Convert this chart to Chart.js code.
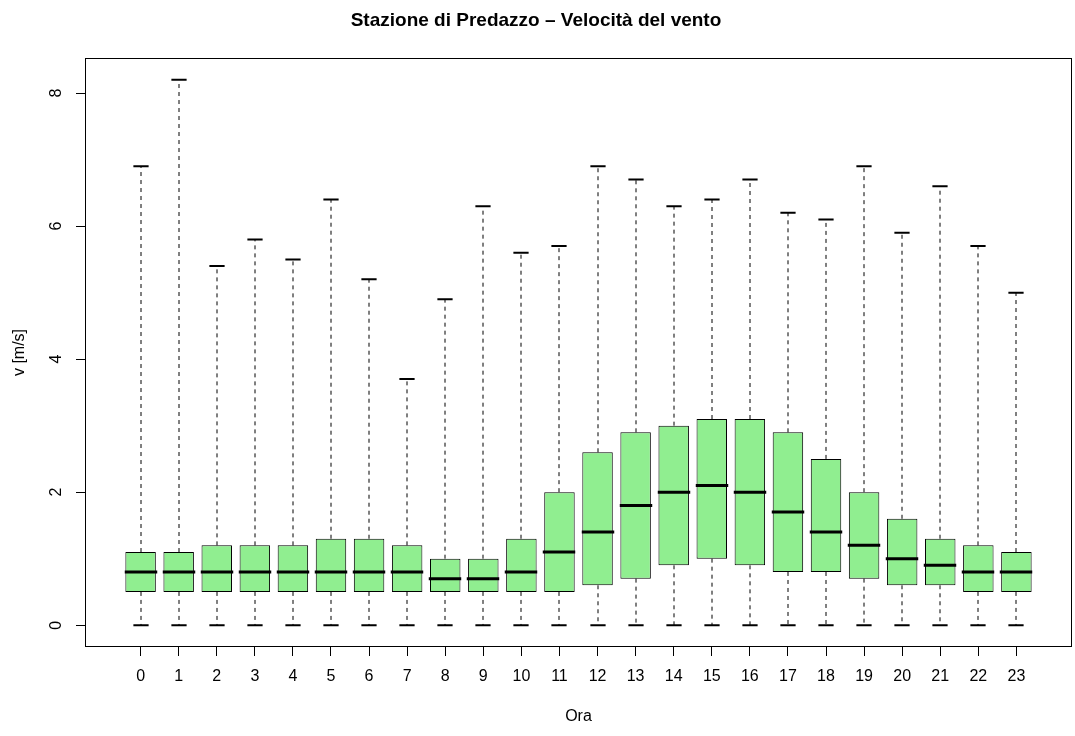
<!DOCTYPE html>
<html>
<head>
<meta charset="utf-8">
<script src="https://cdn.jsdelivr.net/npm/chart.js@4/dist/chart.umd.min.js"></script>
<style>
  html, body { margin: 0; padding: 0; background: #fff; }
  canvas { display: block; }
</style>
</head>
<body>
<canvas id="chart" width="1075" height="736"></canvas>
<script>
// Ore del giorno (asse x)
const hours = [0, 1, 2, 3, 4, 5, 6, 7, 8, 9, 10, 11, 12, 13, 14, 15, 16, 17, 18, 19, 20, 21, 22, 23];

// Statistiche del boxplot per ogni ora
const whiskerLow = [0, 0, 0, 0, 0, 0, 0, 0, 0, 0, 0, 0, 0, 0, 0, 0, 0, 0, 0, 0, 0, 0, 0, 0];
const q1 = [0.5, 0.5, 0.5, 0.5, 0.5, 0.5, 0.5, 0.5, 0.5, 0.5, 0.5, 0.5, 0.6, 0.7, 0.9, 1.0, 0.9, 0.8, 0.8, 0.7, 0.6, 0.6, 0.5, 0.5];
const medians = [0.8, 0.8, 0.8, 0.8, 0.8, 0.8, 0.8, 0.8, 0.7, 0.7, 0.8, 1.1, 1.4, 1.8, 2.0, 2.1, 2.0, 1.7, 1.4, 1.2, 1.0, 0.9, 0.8, 0.8];
const q3 = [1.1, 1.1, 1.2, 1.2, 1.2, 1.3, 1.3, 1.2, 1.0, 1.0, 1.3, 2.0, 2.6, 2.9, 3.0, 3.1, 3.1, 2.9, 2.5, 2.0, 1.6, 1.3, 1.2, 1.1];
const whiskerHigh = [6.9, 8.2, 5.4, 5.8, 5.5, 6.4, 5.2, 3.7, 4.9, 6.3, 5.6, 5.7, 6.9, 6.7, 6.3, 6.4, 6.7, 6.2, 6.1, 6.9, 5.9, 6.6, 5.7, 5.0];

// Tacche dell'asse y
const yTicks = [0, 2, 4, 6, 8];

Chart.defaults.font.family = '"Liberation Sans", Arial, Helvetica, sans-serif';
Chart.defaults.color = '#000';

// Cornice attorno all'area del grafico (come in R)
const frameBoxPlugin = {
  id: 'frameBox',
  afterDraw(chart) {
    const { ctx, chartArea: a } = chart;
    ctx.save();
    ctx.strokeStyle = '#000';
    ctx.lineWidth = 1;
    ctx.strokeRect(a.left + 0.5, a.top + 0.5, a.right - a.left - 1, a.bottom - a.top - 1);
    ctx.restore();
  },
};

// Baffi tratteggiati, staffe e mediane, disegnati con le scale del grafico
const boxExtrasPlugin = {
  id: 'boxExtras',
  afterDatasetsDraw(chart) {
    const { ctx, scales: { x, y } } = chart;
    const meta = chart.getDatasetMeta(0);
    ctx.save();
    ctx.strokeStyle = '#000';
    hours.forEach((h, i) => {
      const bar = meta.data[i];
      const half = bar.width / 2;
      const cx = Math.round(x.getPixelForValue(h));

      // baffi
      ctx.lineWidth = 1;
      ctx.setLineDash([4, 4]);
      ctx.beginPath();
      ctx.moveTo(cx, y.getPixelForValue(q3[i]));
      ctx.lineTo(cx, y.getPixelForValue(whiskerHigh[i]));
      ctx.moveTo(cx, y.getPixelForValue(q1[i]));
      ctx.lineTo(cx, y.getPixelForValue(whiskerLow[i]));
      ctx.stroke();

      // staffe
      ctx.setLineDash([]);
      ctx.lineWidth = 2;
      ctx.beginPath();
      ctx.moveTo(cx - half / 2, y.getPixelForValue(whiskerHigh[i]));
      ctx.lineTo(cx + half / 2, y.getPixelForValue(whiskerHigh[i]));
      ctx.moveTo(cx - half / 2, y.getPixelForValue(whiskerLow[i]));
      ctx.lineTo(cx + half / 2, y.getPixelForValue(whiskerLow[i]));
      ctx.stroke();

      // mediana
      ctx.lineWidth = 3;
      ctx.beginPath();
      ctx.moveTo(cx - half - 1, y.getPixelForValue(medians[i]));
      ctx.lineTo(cx + half + 1, y.getPixelForValue(medians[i]));
      ctx.stroke();
    });
    ctx.restore();
  },
};

const ctx = document.getElementById('chart').getContext('2d');
new Chart(ctx, {
  type: 'bar',
  data: {
    datasets: [{
      label: 'IQR',
      data: hours.map((h, i) => ({ x: h, y: [q1[i], q3[i]] })),
      backgroundColor: '#90EE90',
      borderColor: '#000',
      borderWidth: 1,
      borderSkipped: false,
      barPercentage: 0.8,
      categoryPercentage: 1,
    }],
  },
  options: {
    responsive: false,
    animation: false,
    layout: { padding: { left: 0, right: 3, top: 0, bottom: 0 } },
    plugins: {
      legend: { display: false },
      tooltip: { enabled: false },
      title: {
        display: true,
        text: 'Stazione di Predazzo \u2013 Velocit\u00e0 del vento',
        color: '#000',
        font: { size: 19, weight: 'bold' },
        padding: { top: 9.6, bottom: 25.6 },
      },
    },
    scales: {
      x: {
        type: 'linear',
        offset: false,
        min: -1.46,
        max: 24.46,
        afterBuildTicks: (scale) => { scale.ticks = hours.map((v) => ({ value: v })); },
        afterFit: (scale) => { scale.height = 89; },
        grid: { offset: false, drawOnChartArea: false, drawTicks: true, tickLength: 9, color: '#000' },
        border: { display: false },
        ticks: { font: { size: 16 }, padding: 11.4, maxRotation: 0, autoSkip: false },
        title: { display: true, text: 'Ora', font: { size: 16 }, padding: { top: 0, bottom: 9.4 } },
      },
      y: {
        type: 'linear',
        min: -0.328,
        max: 8.528,
        afterBuildTicks: (scale) => { scale.ticks = yTicks.map((v) => ({ value: v })); },
        afterFit: (scale) => { scale.width = 85; },
        grid: { drawOnChartArea: false, drawTicks: true, tickLength: 9, color: '#000' },
        border: { display: false },
        ticks: { font: { size: 16 }, minRotation: 90, maxRotation: 90, crossAlign: 'center', padding: 14.5 },
        title: { display: true, text: 'v [m/s]', font: { size: 16 }, padding: { top: 10.4, bottom: 0 } },
      },
    },
  },
  plugins: [boxExtrasPlugin, frameBoxPlugin],
});
</script>
</body>
</html>
